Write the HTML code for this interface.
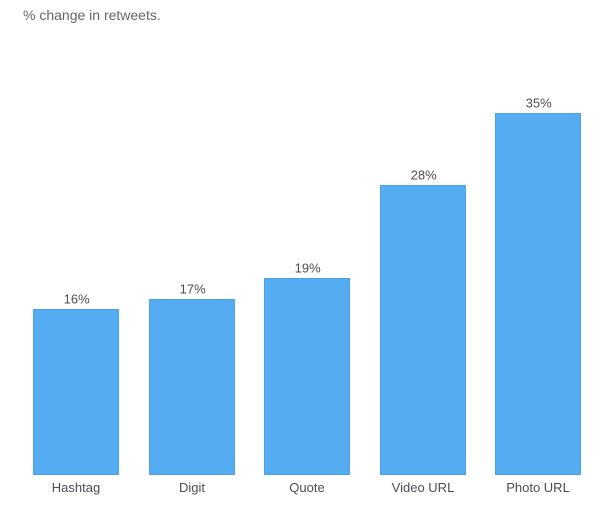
<!DOCTYPE html>
<html lang="en">
<head>
<meta charset="utf-8">
<title>% change in retweets</title>
<style>
html,body{margin:0;padding:0;background:#fff;width:615px;height:511px;overflow:hidden}
svg{display:block}
text{font-family:"Liberation Sans",Arial,sans-serif;fill:#4f4a55}
</style>
</head>
<body>
<svg id="chart" width="615" height="511" viewBox="0 0 615 511" xmlns="http://www.w3.org/2000/svg">
<text x="23" y="20" font-size="14" style="fill:#666666">% change in retweets.</text>
</svg>
<script>
const categories = ["Hashtag", "Digit", "Quote", "Video URL", "Photo URL"];
const retweetChange = [16, 17, 19, 28, 35];

const svg = document.getElementById('chart');
const NS = 'http://www.w3.org/2000/svg';
const baseline = 474.5;
const pxPerUnit = 10.32;
const firstLeft = 33.5;
const step = 115.5;
const barWidth = 85;

function xScale(i) { return firstLeft + i * step; }
function yScale(v) { return baseline - v * pxPerUnit; }

categories.forEach(function (cat, i) {
  const v = retweetChange[i];
  const x = Math.round(xScale(i) - 0.5) + 0.5;
  const y = Math.round(yScale(v) - 0.5) + 0.5;

  const bar = document.createElementNS(NS, 'rect');
  
  
  bar.setAttribute('x', x);
  bar.setAttribute('y', y);
  bar.setAttribute('width', barWidth);
  bar.setAttribute('height', baseline - y);
  bar.setAttribute('fill', '#55acf0');
  bar.setAttribute('stroke', '#4aa2e6');
  bar.setAttribute('stroke-width', '1');
  svg.appendChild(bar);

  const label = document.createElementNS(NS, 'text');
  
  
  label.setAttribute('x', x + barWidth / 2 + 0.7);
  label.setAttribute('y', y - 6);
  label.setAttribute('text-anchor', 'middle');
  label.setAttribute('font-size', '13');
  label.textContent = v + '%';
  svg.appendChild(label);

  const tick = document.createElementNS(NS, 'text');
  
  
  tick.setAttribute('x', x + barWidth / 2);
  tick.setAttribute('y', 492);
  tick.setAttribute('text-anchor', 'middle');
  tick.setAttribute('font-size', '13');
  tick.textContent = cat;
  svg.appendChild(tick);
});
</script>
</body>
</html>
